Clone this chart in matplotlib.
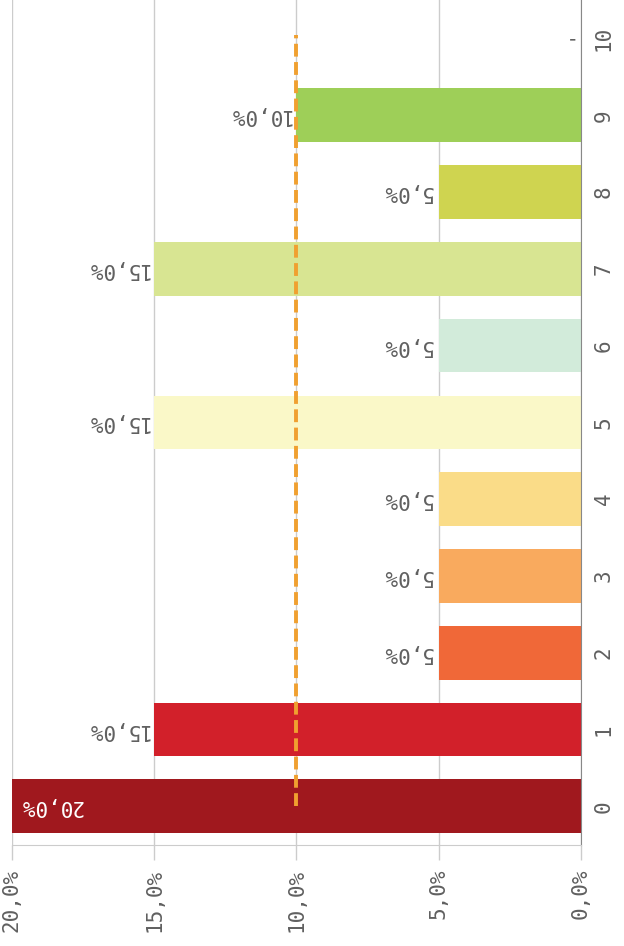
import matplotlib.pyplot as plt

# chart data
categories = ['0', '1', '2', '3', '4', '5', '6', '7', '8', '9', '10']
values = [20.0, 15.0, 5.0, 5.0, 5.0, 15.0, 5.0, 15.0, 5.0, 10.0, 0.0]
bar_colors = ['#A0181E', '#D2202A', '#F06838', '#F9AA5E', '#FADC88',
              '#FAF8C8', '#D2EBDA', '#D8E592', '#CFD450', '#9ECF58', '#9ECF58']
value_ticks = [0, 5, 10, 15, 20]
value_tick_labels = ['0,0%', '5,0%', '10,0%', '15,0%', '20,0%']
target = 10.0


def fmt(v):
    if v == 0:
        return '-'
    return ('%.1f%%' % v).replace('.', ',')


def create_plot():
    plt.rcParams['font.family'] = ['DejaVu Sans Mono']
    fig = plt.figure(figsize=(6.24, 9.46), dpi=100)
    ax = fig.add_axes([0.019, 0.107, 0.912, 0.893])

    pos = list(range(len(categories)))
    ax.barh(pos, values, height=0.7, color=bar_colors, zorder=2)

    # dashed reference line
    ax.plot([target, target], [pos[0], pos[-1] + 0.05], color='#F0A030',
            linewidth=2.8, linestyle=(0, (3.3, 1.4)), zorder=3)

    # value labels (upside down, as in the reference)
    fs = 15
    txt = '#606060'
    for p, v in zip(pos, values):
        if v >= 20:
            ax.text(v - 0.25, p, fmt(v), rotation=180, ha='left', va='center',
                    color='white', fontsize=fs, zorder=4)
        elif v == 0:
            ax.text(0.3, p, fmt(v), rotation=180, ha='right', va='center',
                    color=txt, fontsize=fs, zorder=4)
        else:
            ax.text(v + 0.2, p, fmt(v), rotation=180, ha='right', va='center',
                    color=txt, fontsize=fs, zorder=4)

    ax.set_xlim(20, 0)
    ax.set_ylim(-0.5, len(categories) - 0.5)

    ax.set_xticks(value_ticks)
    ax.set_xticklabels(value_tick_labels, rotation=90, fontsize=fs, color=txt)
    ax.tick_params(axis='x', length=11, color='#CCCCCC', width=1, pad=6)
    ax.xaxis.grid(True, color='#CCCCCC', linewidth=1, zorder=0)

    ax.yaxis.tick_right()
    ax.set_yticks(pos)
    ax.set_yticklabels(categories, rotation=90, fontsize=fs, color=txt,
                       va='center')
    ax.tick_params(axis='y', length=0, pad=9)

    for side in ['top', 'left']:
        ax.spines[side].set_visible(False)
    ax.spines['bottom'].set_color('#CCCCCC')
    ax.spines['right'].set_color('#888888')

    fig.savefig('out.png', dpi=100)


if __name__ == "__main__":
    create_plot()
